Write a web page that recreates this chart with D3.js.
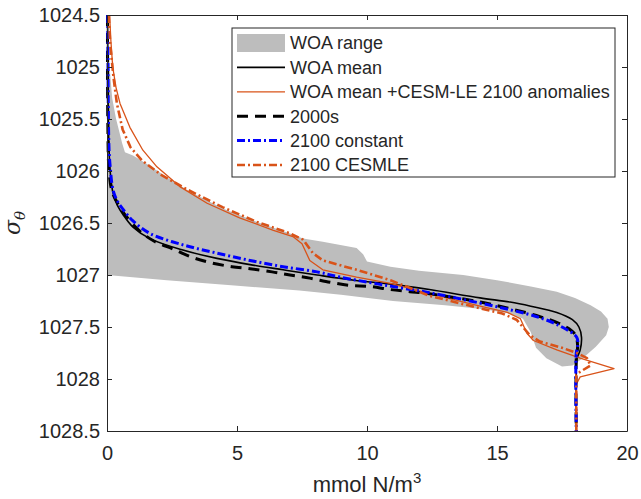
<!DOCTYPE html>
<head>
    <meta charset="utf-8">
    <script src="https://d3js.org/d3.v7.min.js"></script>
    <style>
        body { margin: 0; background: #fff; }
        text { font-family: "Liberation Sans", Arial, Helvetica, sans-serif; fill: #262626; }
    </style>
</head>

<body>
    <div id="profile"></div>
</body>

<script>

    // ticks
    const xTicks = [0, 5, 10, 15, 20];
    const yTicks = [1024.5, 1025, 1025.5, 1026, 1026.5, 1027, 1027.5, 1028, 1028.5];

    // series, [N (mmol/m3), sigma]
    const woaRange = [
        [0, 1024.5], [0.05, 1024.5], [0.1, 1025.0], [0.2, 1025.3], [0.35, 1025.5], [0.5, 1025.65],
        [0.58, 1025.73], [0.69, 1025.82], [1.0, 1025.85], [1.65, 1025.95], [2.3, 1026.06],
        [3.2, 1026.2], [4.46, 1026.36], [5.77, 1026.49], [7.04, 1026.6], [7.54, 1026.65],
        [8.3, 1026.68], [9.6, 1026.74], [9.85, 1026.8], [10.0, 1026.87], [10.9, 1026.92],
        [12, 1026.96], [13.7, 1027.0], [15, 1027.05], [16.3, 1027.11], [17.3, 1027.16],
        [18.0, 1027.22], [18.6, 1027.29], [19.0, 1027.35], [19.25, 1027.42], [19.3, 1027.5],
        [19.2, 1027.58], [18.8, 1027.69], [18.3, 1027.8], [17.9, 1027.87], [17.5, 1027.88],
        [16.9, 1027.8], [16.5, 1027.7], [16.3, 1027.55], [16.0, 1027.42], [15.5, 1027.37],
        [14.5, 1027.33], [13, 1027.29], [11, 1027.25], [9, 1027.19], [7.4, 1027.15],
        [4.9, 1027.1], [2.3, 1027.05], [0, 1027.0]
    ];

    const woaMean = [
        [0.02, 1024.5], [0.03, 1025.0], [0.05, 1025.5], [0.08, 1025.8], [0.12, 1026.0],
        [0.23, 1026.21], [0.4, 1026.33], [0.62, 1026.42], [1.0, 1026.54], [1.65, 1026.65],
        [2.92, 1026.76], [4.23, 1026.84], [5.5, 1026.9], [6.77, 1026.95], [8.08, 1027.0],
        [9.5, 1027.05], [11, 1027.09], [12.4, 1027.14], [14.35, 1027.22], [15.5, 1027.26],
        [16.3, 1027.3], [17.3, 1027.36], [17.9, 1027.43], [18.15, 1027.5], [18.25, 1027.6],
        [18.2, 1027.72], [18.08, 1027.8], [18.05, 1027.9], [18.05, 1028.5]
    ];

    const woaMeanCesm = [
        [0.1, 1024.5], [0.15, 1024.75], [0.22, 1025.0], [0.35, 1025.2], [0.5, 1025.35],
        [0.88, 1025.58], [1.38, 1025.8], [1.92, 1025.96], [2.8, 1026.15], [3.85, 1026.31],
        [5.1, 1026.45], [6.4, 1026.57], [7.15, 1026.63], [7.5, 1026.7], [7.8, 1026.86],
        [8.3, 1026.95], [9.6, 1027.02], [10.9, 1027.08], [12.4, 1027.18], [14.35, 1027.3],
        [15.4, 1027.36], [15.9, 1027.42], [16.15, 1027.56], [16.4, 1027.63], [17.3, 1027.72],
        [18.2, 1027.8], [18.6, 1027.83], [19.5, 1027.9], [18.2, 1027.98], [18.05, 1028.05],
        [18.05, 1028.5]
    ];

    const n2000s = [
        [0.02, 1024.5], [0.03, 1025.5], [0.08, 1026.0], [0.2, 1026.2], [0.45, 1026.33],
        [0.69, 1026.42], [1.27, 1026.58], [1.85, 1026.68], [2.54, 1026.75], [3.27, 1026.83],
        [3.96, 1026.88], [4.8, 1026.92], [5.5, 1026.94], [6.35, 1026.97], [7.04, 1027.0],
        [7.8, 1027.03], [8.58, 1027.07], [9.35, 1027.1], [10.1, 1027.11], [10.9, 1027.14],
        [11.65, 1027.16], [12.4, 1027.18], [14.35, 1027.26], [15.6, 1027.33], [16.65, 1027.4],
        [17.5, 1027.48], [18.0, 1027.57], [18.1, 1027.68], [18.05, 1027.8], [18.05, 1028.5]
    ];

    const n2100const = [
        [0.03, 1024.5], [0.05, 1025.4], [0.08, 1025.8], [0.12, 1025.95], [0.23, 1026.18],
        [0.4, 1026.29], [0.62, 1026.37], [1.0, 1026.48], [1.65, 1026.6], [2.92, 1026.71],
        [4.23, 1026.79], [5.5, 1026.86], [6.77, 1026.92], [8.08, 1026.97], [8.96, 1027.02],
        [10.5, 1027.09], [12.4, 1027.17], [14.35, 1027.27], [15.6, 1027.34], [16.65, 1027.41],
        [17.5, 1027.5], [18.07, 1027.6], [18.1, 1027.69], [18.05, 1027.75], [18.05, 1028.5]
    ];

    const n2100cesm = [
        [0.07, 1024.5], [0.12, 1024.77], [0.25, 1025.1], [0.38, 1025.35], [0.6, 1025.6],
        [0.9, 1025.77], [1.35, 1025.9], [2.1, 1026.04], [3.1, 1026.18], [4.46, 1026.35],
        [5.77, 1026.49], [7.04, 1026.6], [7.54, 1026.66], [7.92, 1026.79], [8.3, 1026.86],
        [9.6, 1026.95], [10.9, 1027.05], [12.4, 1027.2], [14.35, 1027.32], [15.2, 1027.37],
        [15.75, 1027.43], [16.27, 1027.58], [16.65, 1027.64], [17.5, 1027.7], [18.07, 1027.75],
        [18.46, 1027.8], [18.6, 1027.87], [18.2, 1027.93], [18.05, 1027.96], [18.05, 1028.5]
    ];

    const legendNames = ["WOA range", "WOA mean", "WOA mean +CESM-LE 2100 anomalies",
        "2000s", "2100 constant", "2100 CESMLE"];

    const orange = "#d95319";
    const smooth = d3.curveCatmullRom.alpha(0.5);
    const lineStyles = [
        {data: woaMean, color: "#000", width: 1.6, dash: null, curve: smooth},
        {data: woaMeanCesm, color: orange, width: 1.3, dash: null, curve: d3.curveLinear},
        {data: n2000s, color: "#000", width: 3, dash: "11,7", curve: smooth},
        {data: n2100const, color: "#0000ff", width: 3, dash: "8,3,2,3", curve: smooth},
        {data: n2100cesm, color: orange, width: 2.6, dash: "8,3,2,3", curve: d3.curveLinear}
    ];

    const W = 641, H = 499;
    const margin = {top: 15, right: 14, bottom: 68, left: 107},
        width = W - margin.left - margin.right,
        height = H - margin.top - margin.bottom;

    const svg = d3.select("#profile")
        .append("svg")
            .attr("width", W)
            .attr("height", H)
        .append("g")
            .attr("transform", `translate(${margin.left},${margin.top})`);

    const x = d3.scaleLinear().domain([0, 20]).range([0, width]);
    const y = d3.scaleLinear().domain([1024.5, 1028.5]).range([0, height]);

    const line = c => d3.line()
        .x(d => x(d[0]))
        .y(d => y(d[1]))
        .curve(c);

    // gray range
    svg.append("path")
        .datum(woaRange)
        .attr("fill", "#bdbdbd")
        .attr("stroke", "none")
        .attr("d", line(d3.curveLinear));

    // lines
    lineStyles.forEach(s => {
        svg.append("path")
            .datum(s.data)
            .attr("fill", "none")
            .attr("stroke", s.color)
            .attr("stroke-width", s.width)
            .attr("stroke-dasharray", s.dash)
            .attr("stroke-linejoin", "round")
            .attr("d", line(s.curve));
    });

    // axes
    const fmt = d => String(d);
    const axisStyle = g => {
        g.select(".domain").attr("stroke", "#262626");
        g.selectAll(".tick line").attr("stroke", "#262626");
        g.selectAll("text").attr("font-size", 20).attr("fill", "#262626")
            .attr("font-family", "'Liberation Sans', Arial, sans-serif");
    };

    svg.append("g")
        .attr("transform", `translate(0,${height})`)
        .call(d3.axisBottom(x).tickValues(xTicks).tickFormat(fmt)
            .tickSizeInner(-5).tickSizeOuter(0).tickPadding(15))
        .call(axisStyle);
    svg.append("g")
        .call(d3.axisLeft(y).tickValues(yTicks).tickFormat(fmt)
            .tickSizeInner(-5).tickSizeOuter(0).tickPadding(7))
        .call(axisStyle);
    svg.append("g")
        .call(d3.axisTop(x).tickValues(xTicks).tickFormat("")
            .tickSizeInner(-5).tickSizeOuter(0))
        .call(axisStyle);
    svg.append("g")
        .attr("transform", `translate(${width},0)`)
        .call(d3.axisRight(y).tickValues(yTicks).tickFormat("")
            .tickSizeInner(-5).tickSizeOuter(0))
        .call(axisStyle);

    // axis labels
    const xl = svg.append("text")
        .attr("x", width / 2)
        .attr("y", 477)
        .attr("text-anchor", "middle")
        .attr("font-size", 22);
    xl.append("tspan").text("mmol N/m");
    xl.append("tspan").attr("font-size", 15).attr("dy", -9).text("3");

    const yl = svg.append("text")
        .attr("transform", `translate(${20 - margin.left},${height / 2}) rotate(-90)`)
        .attr("text-anchor", "middle")
        .attr("font-size", 22)
        .attr("font-style", "italic");
    yl.append("tspan").attr("font-family", "'DejaVu Serif', serif").text("σ");
    yl.append("tspan").attr("font-size", 15).attr("dy", 5).attr("font-family", "'DejaVu Serif', serif").text("θ");

    // legend
    const lg = svg.append("g")
        .attr("transform", `translate(${232 - margin.left},${28 - margin.top})`);
    lg.append("rect")
        .attr("width", 383).attr("height", 149)
        .attr("fill", "#fff").attr("stroke", "#262626").attr("stroke-width", 1);

    const rowY = i => 15 + i * 24.4;
    lg.append("rect")
        .attr("x", 5).attr("y", rowY(0) - 9).attr("width", 48).attr("height", 18)
        .attr("fill", "#bdbdbd");
    lineStyles.forEach((s, i) => {
        lg.append("line")
            .attr("x1", 5).attr("x2", 53)
            .attr("y1", rowY(i + 1)).attr("y2", rowY(i + 1))
            .attr("stroke", s.color)
            .attr("stroke-width", s.width)
            .attr("stroke-dasharray", s.dash);
    });
    lg.selectAll(".lgtext")
        .data(legendNames)
        .join("text")
            .attr("x", 58)
            .attr("y", (d, i) => rowY(i))
            .attr("dy", "0.35em")
            .attr("font-size", 18)
            .attr("fill", "#000")
            .text(d => d);

</script>
</html>
